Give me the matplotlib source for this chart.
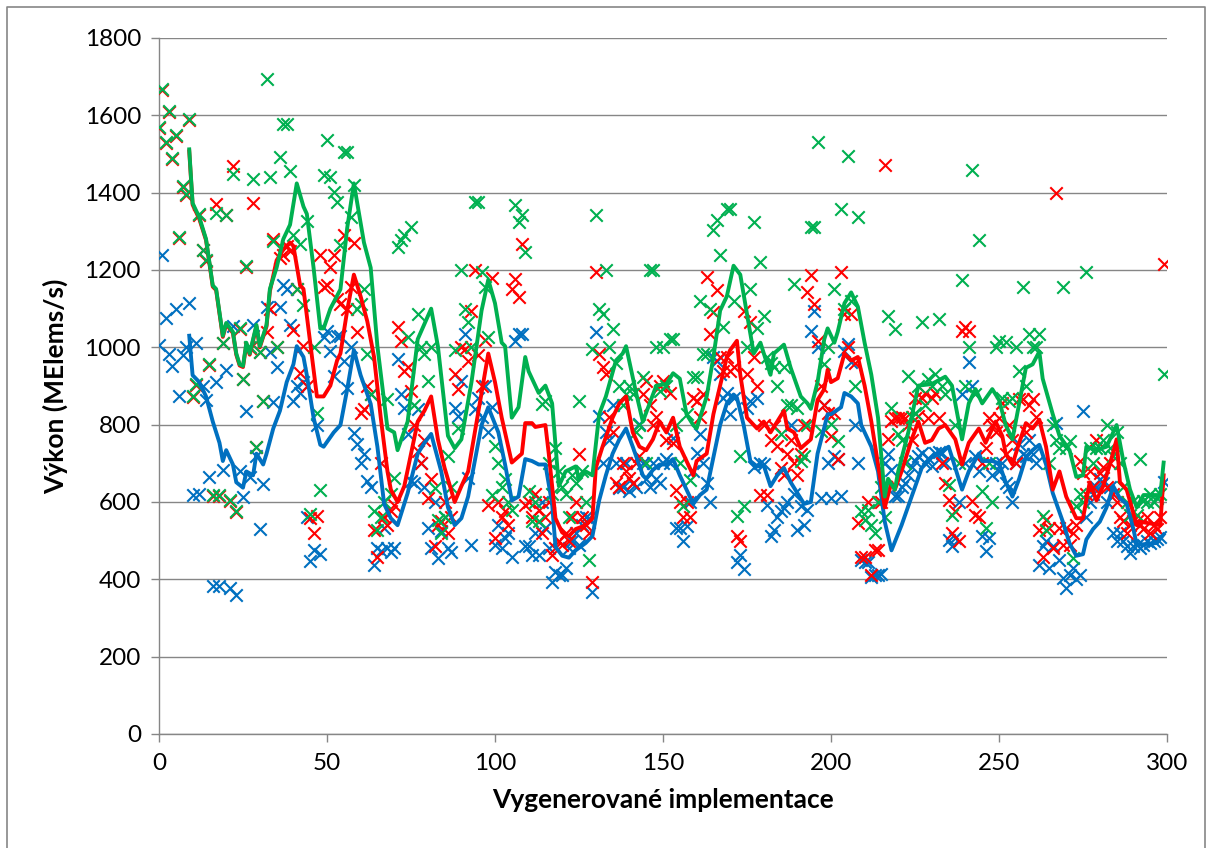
import matplotlib
matplotlib.use("Agg")
import matplotlib.pyplot as plt
import numpy as np

# ---- scatter data (value per implementation index 0..299) ----
blue_pts = [
    1007,1239,1077,984,952,1100,873,980,1000,1114,
    618,1012,620,901,864,665,382,910,382,683,
    942,377,1054,359,679,614,836,665,1058,720,
    530,646,1104,989,859,950,1104,1160,1151,1058,
    860,900,882,910,560,447,475,800,466,1026,
    1043,991,926,1030,1030,965,896,1000,779,749,
    701,723,654,640,437,480,472,532,481,470,
    481,970,880,844,775,654,650,840,700,640,
    532,481,600,454,524,560,480,470,844,822,
    913,1035,662,489,840,870,820,900,780,845,
    489,541,480,507,520,459,1017,1035,1035,485,
    485,463,520,463,600,532,480,394,420,411,
    411,430,480,500,520,490,540,560,558,368,
    1039,822,700,780,760,850,700,636,640,700,
    628,650,640,801,700,660,640,700,660,650,
    700,712,700,765,532,532,498,537,600,680,
    728,775,700,650,600,974,965,930,870,883,
    827,870,446,463,428,844,860,690,870,700,
    697,593,511,528,560,576,584,600,800,620,
    528,590,541,580,1043,1095,1000,611,850,700,
    611,719,710,615,991,1009,961,800,700,450,
    446,446,407,411,411,415,700,723,684,615,
    615,640,650,671,690,706,720,727,700,714,
    693,727,730,727,700,502,485,506,600,879,
    700,961,900,720,680,511,472,506,671,700,
    680,700,650,640,600,700,749,723,720,760,
    723,700,437,485,500,430,485,805,450,403,
    377,411,430,400,411,836,560,600,620,640,
    660,650,600,640,520,500,520,500,485,468,
    485,490,480,490,500,495,500,505,510,653,
]
red_pts = [
    1568,1666,1528,1608,1488,1547,1283,1415,1394,1589,
    871,903,1343,1251,1223,954,616,1371,616,1010,
    1341,602,1468,575,1047,917,1209,998,1373,741,
    987,860,1040,1100,1281,1000,1230,1240,1262,1248,
    1044,1151,933,1003,900,558,521,563,1238,1156,
    1160,1208,1240,1126,1113,1290,1100,1156,1270,1040,
    831,840,900,879,528,459,700,560,540,576,
    593,1052,1017,939,948,887,800,732,701,760,
    610,660,485,541,550,600,520,560,931,892,
    1000,996,965,1095,1200,980,900,1020,593,1180,
    507,600,560,576,541,1152,1177,1130,1268,593,
    600,560,620,580,520,560,600,463,480,500,
    489,520,500,560,600,723,560,540,520,394,
    1195,983,948,931,820,780,650,640,700,680,
    662,650,700,720,879,913,850,800,820,900,
    913,760,883,753,632,600,560,600,560,870,
    862,820,879,1182,1035,1091,1147,974,939,974,
    939,950,511,498,1095,931,1065,974,900,619,
    800,619,760,797,745,688,671,723,760,700,
    671,723,800,1143,1186,1113,1017,900,850,831,
    771,831,710,1195,1087,1000,1087,960,545,459,
    459,600,411,476,476,600,1472,762,810,818,
    818,820,818,800,760,870,822,870,883,818,
    870,883,818,700,650,606,520,576,500,1043,
    1052,1043,602,567,560,700,740,818,800,780,
    818,857,723,800,760,700,866,866,780,850,
    866,820,528,459,554,532,480,1398,532,489,
    532,489,520,540,706,675,620,680,640,760,
    675,690,640,700,620,600,560,550,520,540,
    550,550,540,530,560,520,540,530,560,1216,
]
green_pts = [
    1570,1668,1530,1610,1490,1549,1285,1417,1396,1591,
    873,905,1345,1253,1225,956,618,1347,618,1012,
    1343,604,1447,577,1049,919,1211,1000,1435,743,
    989,860,1693,1440,1276,1000,1493,1577,1577,1455,
    1290,1151,1266,1109,1327,568,1000,831,632,1446,
    1537,1440,1403,1377,1264,1506,1506,1338,1420,1100,
    1112,1150,983,880,576,528,560,600,866,620,
    662,1260,1277,1290,1026,1312,850,1087,1000,983,
    913,1000,636,554,520,560,720,640,992,792,
    1199,1100,1065,1000,1377,1377,1195,1156,1026,619,
    745,700,640,660,600,580,1368,1325,1342,1247,
    628,550,600,550,853,860,700,620,740,680,
    640,620,560,671,650,861,680,600,450,996,
    1342,1100,1087,1199,1000,1048,960,900,850,880,
    900,880,780,800,922,700,1199,1199,1000,887,
    1000,900,1022,1022,800,700,589,827,658,922,
    922,1121,983,983,1100,1303,1329,1238,1052,1359,
    1359,1121,563,719,589,1000,1150,1325,1050,1221,
    1082,974,960,948,900,775,948,850,850,1165,
    844,706,720,800,1312,1312,1532,784,957,1000,
    801,1150,758,1359,1100,1494,1120,900,1338,576,
    554,580,540,520,600,640,560,1082,844,1048,
    775,760,700,926,820,830,900,1065,850,918,
    900,930,1074,900,880,645,567,800,700,1173,
    900,1000,1459,880,1277,628,532,700,600,1000,
    1017,870,1013,860,870,1000,939,1156,900,1035,
    1000,1000,1035,563,528,700,800,760,740,1156,
    740,758,455,589,620,600,1195,740,700,740,
    740,760,800,740,720,780,700,640,600,567,
    602,567,710,602,600,620,600,610,620,931,
]

# ---- moving-average trend lines ----
green_line_x = [9,10,12,14,16,17,19,20,22,23,24,25,26,27,29,30,32,33,35,37,39,41,43,44,46,48,49,51,54,56,58,61,63,65,68,70,71,74,77,81,83,86,88,90,93,96,98,100,102,103,105,107,109,110,113,115,117,119,121,124,125,127,129,131,133,136,138,139,142,144,148,151,153,155,157,159,160,163,165,167,169,171,173,175,177,179,182,183,186,188,191,193,194,196,198,199,201,202,204,206,208,210,212,214,216,217,219,220,223,226,230,231,234,236,239,241,243,245,248,250,252,254,256,258,260,262,263,266,268,271,273,275,276,279,282,285,287,289,291,293,298,299]
green_line_y = [1512,1373,1336,1280,1160,1151,1030,1063,1040,984,956,952,1012,984,1058,1003,1058,1151,1206,1280,1317,1424,1364,1345,1206,1049,1049,1100,1150,1308,1424,1271,1206,1003,790,780,734,808,1021,1100,1003,771,739,762,910,1095,1175,1114,1012,1003,818,845,975,938,882,901,855,641,679,692,660,679,669,827,873,966,984,1003,882,808,901,905,933,919,827,799,790,873,975,1095,1132,1211,1188,1086,984,1012,929,984,1007,947,873,855,841,910,1021,1049,1012,1040,1114,1142,1105,1012,929,818,614,660,632,679,780,901,905,910,924,901,762,855,892,855,892,864,799,762,855,947,956,989,919,827,771,734,665,669,743,734,743,799,706,632,586,618,618,702]

red_line_x = [9,10,12,14,16,17,19,20,22,23,24,25,26,27,29,30,32,33,35,37,39,40,42,43,45,47,49,51,53,54,56,58,60,62,64,66,68,69,71,73,75,77,79,81,83,85,88,90,92,94,96,98,100,102,105,108,109,111,112,115,116,118,120,122,124,127,129,130,132,135,137,139,141,143,145,147,149,151,153,155,157,159,160,163,165,167,169,170,172,173,175,178,180,182,184,186,187,189,191,194,196,198,199,200,202,204,206,208,210,212,214,216,218,219,221,224,226,228,230,232,234,237,239,241,244,246,249,251,252,254,256,258,260,262,264,266,268,270,273,275,277,279,281,283,285,286,288,291,292,298,299]
red_line_y = [1507,1369,1332,1277,1157,1148,1027,1060,1037,981,953,949,1008,981,1054,1000,1054,1145,1225,1253,1271,1262,1160,1151,1012,873,873,901,966,984,1095,1188,1132,1067,975,818,679,632,600,641,725,808,836,873,762,688,600,641,679,780,882,984,910,818,702,725,804,804,794,799,725,558,521,512,530,540,558,688,743,818,855,873,780,743,734,762,808,780,818,743,706,669,706,725,827,901,975,993,1017,929,818,790,808,780,808,836,790,780,739,762,864,892,942,910,920,984,966,975,901,808,697,586,651,632,679,762,808,753,760,790,799,762,697,753,790,753,808,770,725,697,753,804,790,813,743,632,679,614,558,558,651,604,641,697,762,651,632,540,549,540,669]

blue_line_x = [9,10,12,14,16,18,19,20,22,23,25,26,28,29,31,32,34,36,38,40,41,43,44,46,48,49,52,54,56,58,60,63,65,67,69,71,74,77,79,81,84,86,88,90,92,94,96,98,101,103,105,107,109,111,113,115,117,118,120,122,124,127,129,131,133,135,137,139,141,144,145,147,149,151,153,155,157,159,161,163,165,167,169,171,172,174,176,178,180,182,184,186,188,190,192,194,196,199,200,203,204,206,208,209,212,214,216,218,221,224,227,230,232,235,236,239,241,244,245,248,250,252,254,256,258,260,262,264,266,269,271,273,275,276,278,280,282,284,286,288,290,291,297,299]
blue_line_y = [1030,928,910,873,808,753,706,734,697,651,637,679,669,725,697,725,790,836,910,956,1003,975,928,818,748,743,780,799,891,993,928,854,743,595,558,540,623,725,753,776,679,586,540,558,614,706,799,845,780,697,604,614,711,706,697,697,595,484,461,456,475,494,512,604,669,725,762,790,743,669,660,683,697,697,711,669,632,595,618,632,716,799,855,878,870,799,706,692,694,641,669,688,651,623,595,600,725,827,827,845,882,873,855,799,743,679,549,475,540,614,688,716,725,743,716,632,679,725,706,706,700,651,614,660,716,734,748,697,623,549,493,461,465,503,530,549,586,641,609,595,530,489,494,516]

BLUE = "#0070C0"
RED = "#FF0000"
GREEN = "#00B050"

plt.rcParams['font.family'] = ['Lato', 'DejaVu Sans']

fig = plt.figure(figsize=(12.12, 8.48), dpi=100)
ax = fig.add_axes([159/1212, 1-734/848, (1167-159)/1212, (734-38)/848])

xs = np.arange(len(blue_pts))
ms = 80
lw_m = 1.5
ax.scatter(xs, blue_pts, marker='x', s=ms, color=BLUE, linewidths=lw_m, zorder=3)
ax.scatter(xs, red_pts, marker='x', s=ms, color=RED, linewidths=lw_m, zorder=3)
ax.scatter(xs, green_pts, marker='x', s=ms, color=GREEN, linewidths=lw_m, zorder=3)

ax.plot(blue_line_x, blue_line_y, color=BLUE, lw=2.8, zorder=4, solid_joinstyle='round')
ax.plot(red_line_x, red_line_y, color=RED, lw=2.8, zorder=4, solid_joinstyle='round')
ax.plot(green_line_x, green_line_y, color=GREEN, lw=2.8, zorder=4, solid_joinstyle='round')

ax.set_xlim(0, 300)
ax.set_ylim(0, 1800)
ax.set_xticks(range(0, 301, 50))
ax.set_yticks(range(0, 1801, 200))
ax.grid(axis='y', color='#868686', lw=1.0)
ax.set_axisbelow(True)
for s in ['top', 'right']:
    ax.spines[s].set_visible(False)
for s in ['left', 'bottom']:
    ax.spines[s].set_color('#868686')
    ax.spines[s].set_linewidth(1.0)
ax.tick_params(axis='both', colors='#868686', labelcolor='black', labelsize=17.5, length=6, width=1)
ax.tick_params(axis='y', pad=7)
ax.tick_params(axis='x', pad=8)
ax.set_xlabel('Vygenerované implementace', fontsize=19, fontweight='bold', labelpad=10)
ax.set_ylabel('Výkon (MElems/s)', fontsize=19, fontweight='bold', labelpad=12)

# chart-area frame (left, top, right edges; bottom is cut off)
fw, fh = 1212, 848
frame_x = [7/fw, 7/fw, 1205/fw, 1205/fw]
frame_y = [0, 1-7/fh, 1-7/fh, 0]
fig.lines.append(matplotlib.lines.Line2D(frame_x, frame_y, transform=fig.transFigure,
                                         color='#868686', lw=1.2))

fig.savefig('out.png', dpi=100)
